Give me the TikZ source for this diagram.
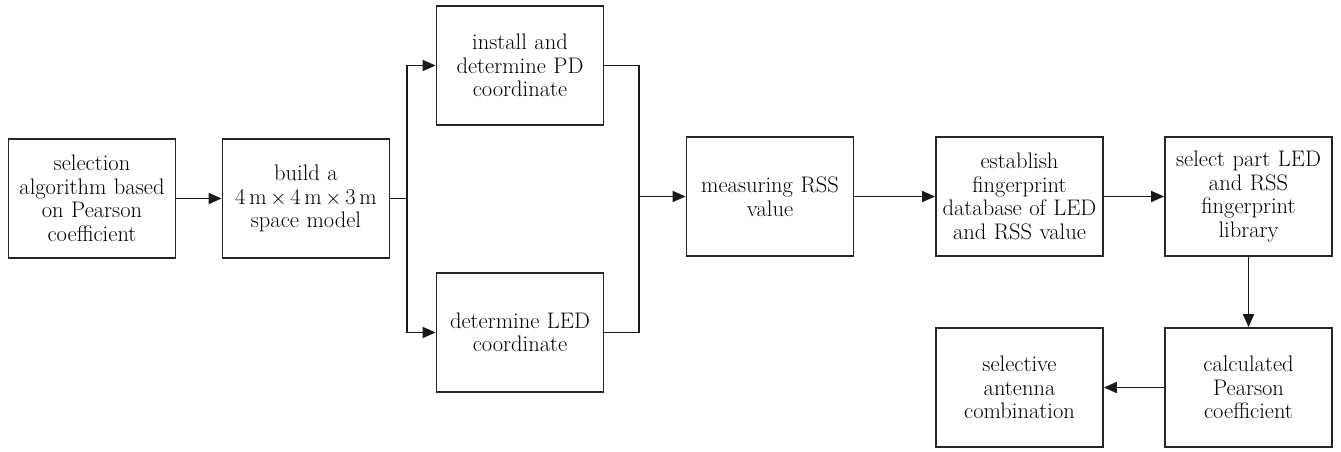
\documentclass[tikz,border=0pt]{standalone}
\usetikzlibrary{arrows.meta}
\begin{document}
\begin{tikzpicture}[x=1pt,y=-1pt,
  box/.style={draw=black!85, line width=1.8pt, minimum width=167pt, minimum height=119pt,
    text width=163pt, align=center, inner sep=0pt,
    font=\fontsize{22.5}{23.5}\selectfont},
  conn/.style={line width=1.8pt, draw=black!90},
  arr/.style={conn, -{Triangle[length=13pt,width=11pt]}}]
\useasboundingbox (0,0) rectangle (1341,452);
\node[box] (b1) at (92,198.5) {selection\\algorithm based\\on Pearson\\coefficient};
\node[box] (b2) at (306,198.5) {build a\\4\,m\,$\times$\,4\,m\,$\times$\,3\,m\\space model};
\node[box] (b3) at (520,65.5) {install and\\determine PD\\coordinate};
\node[box] (b4) at (520,332.5) {determine LED\\coordinate};
\node[box] (b5) at (770,196.5) {measuring RSS\\value};
\node[box] (b6) at (1019.5,196.5) {establish\\fingerprint\\database of LED\\and RSS value};
\node[box] (b7) at (1248.5,196.5) {select part LED\\and RSS\\fingerprint\\library};
\node[box] (b8) at (1248.5,387.5) {calculated\\Pearson\\coefficient};
\node[box] (b9) at (1019.5,387.5) {selective\\antenna\\combination};
\coordinate (j1) at (407,198.5);
\coordinate (j2) at (639,196.5);
\draw[arr] (b1) -- (b2);
\draw[conn] (b2.east) -- (j1);
\draw[arr] (j1) |- (b3.west);
\draw[arr] (j1) |- (b4.west);
\draw[conn] (b3.east) -| (j2);
\draw[conn] (b4.east) -| (j2);
\draw[arr] (j2) -- (b5.west);
\draw[arr] (b5) -- (b6);
\draw[arr] (b6) -- (b7);
\draw[arr] (b7) -- (b8);
\draw[arr] (b8) -- (b9);
\end{tikzpicture}
\end{document}
